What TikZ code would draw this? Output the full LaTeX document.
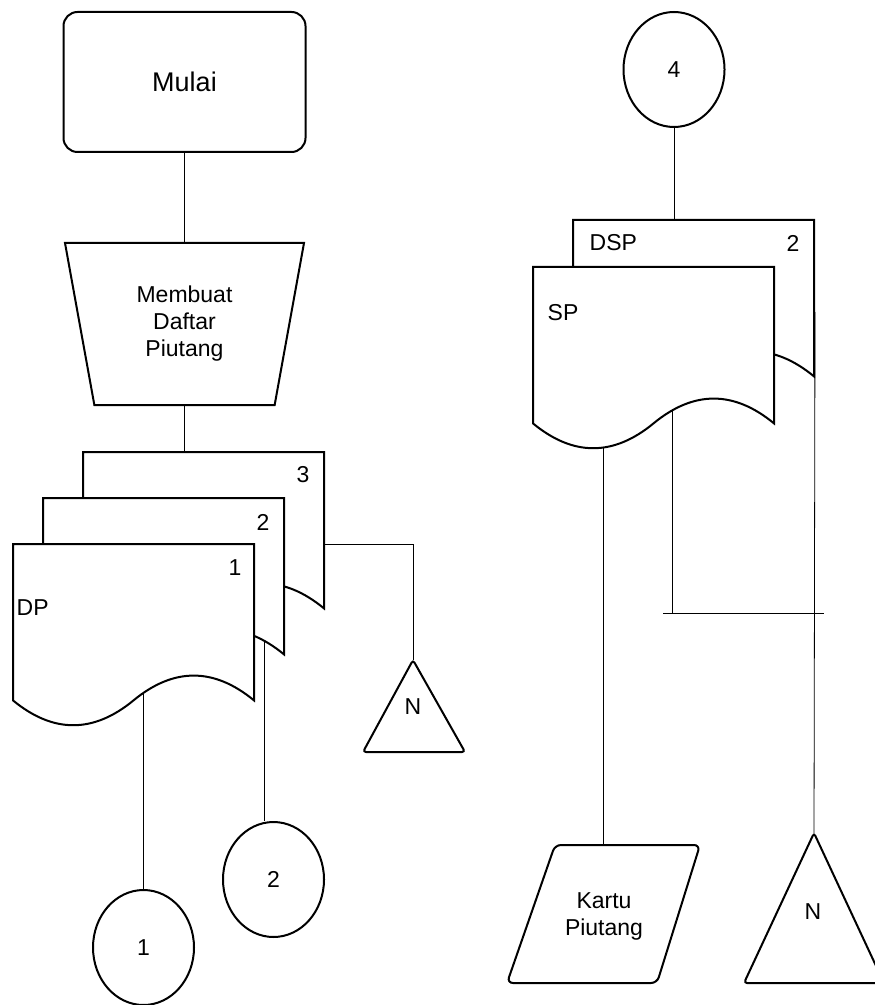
\documentclass[tikz,border=0pt]{standalone}
\usepackage{fontspec}
\setmainfont{Liberation Sans}
\usetikzlibrary{shapes.geometric, calc, backgrounds}

% document symbol, top left corner at (#1,#2), named #3
\newcommand{\docsym}[3]{
    \begin{scope}[shift={(#1,#2)}]
        \draw[fill=white] (0,0) -- (241,0) -- (241,156.4)
            .. controls (200.8,123.3) and (160.7,123.3) .. (120.5,156.4)
            .. controls (80.3,189.5) and (40.2,189.5) .. (0,156.4) -- cycle;
        \node[docarea] (#3) at (120.5,92) {};
    \end{scope}
}

\begin{document}
\begin{tikzpicture}[x=0.5pt, y=-0.5pt, line width=1pt,
    every node/.style={font=\fontsize{11.5}{13.5}\selectfont},
    docarea/.style={rectangle, inner sep=0pt, minimum width=120.5pt, minimum height=92pt},
    bubble/.style={draw, fill=white, ellipse, inner sep=0pt, minimum width=50.5pt, minimum height=57.5pt}]
    \useasboundingbox (0,0) rectangle (874,1005);

    % start and process
    \node[draw, fill=white, rounded corners=7pt, minimum width=121pt, minimum height=70pt,
        font=\fontsize{13.5}{16}\selectfont] (mulai) at (184.5,82) {Mulai};
    \node[draw, fill=white, trapezium, shape border rotate=180, trapezium angle=71.7,
        trapezium stretches body, minimum width=119.5pt, minimum height=81pt, align=center]
        (buat) at (184.5,324) {Membuat\\Daftar\\Piutang};

    % daftar piutang, 3 copies
    \docsym{83}{452}{dp3}
    \node (lbl3) at (303,475) {3};
    \docsym{43}{498}{dp2}
    \node (lbl2) at (263,522) {2};
    \docsym{13}{544}{dp1}
    \node (lbl1) at (235,568) {1};
    \node[anchor=west] (lbldp) at (9,608) {DP};

    % connectors left
    \node[bubble] (c1) at (143.5,947.5) {1};
    \node[bubble] (c2) at (273.5,879.5) {2};
    \draw[fill=white, rounded corners=1.5pt] (413,660) -- (465,752) -- (363,752) -- cycle;
    \coordinate (nA) at (413,660);
    \node (nAtxt) at (413,707) {N};

    % right column
    \node[bubble] (c4) at (674,69.5) {4};
    \docsym{573}{220}{dsp}
    \node[anchor=west] (lbldsp) at (582,243) {DSP};
    \node (lbldsp2) at (793,243) {2};
    \docsym{533}{267}{sp}
    \node[anchor=west] (lblsp) at (540,313) {SP};

    \draw[fill=white, rounded corners=3pt] (555,845) -- (700,845) -- (657,983) -- (507,983) -- cycle;
    \coordinate (ktop) at (603,845);
    \node[align=center] (kartu) at (604,916) {Kartu\\Piutang};

    \draw[fill=white, rounded corners=1.5pt] (814,833) -- (884,983) -- (744,983) -- cycle;
    \coordinate (nB) at (814,833);
    \node (nBtxt) at (813,912) {N};

    \coordinate (l2) at (264,600);
    \coordinate (l3) at (672,400);
    \coordinate (jl) at (663,613);
    \coordinate (jr) at (824,613);

    % flow lines
    \begin{pgfonlayer}{background}
        \draw (mulai) -- (buat);
        \draw (buat) -- (buat |- dp3.north);
        \draw (dp3.east) -| (nA);
        \draw (dp1.center -| c1.north) -- (c1);
        \draw (l2) -- (l2 |- c2.north);
        \draw (c4) -- (c4 |- dsp.north);
        \draw (dsp.east) -- (nB);
        \draw (sp.center -| ktop) -- (ktop);
        \draw (l3) -- (l3 |- jl);
        \draw (jl) -- (jr);
    \end{pgfonlayer}
\end{tikzpicture}
\end{document}
